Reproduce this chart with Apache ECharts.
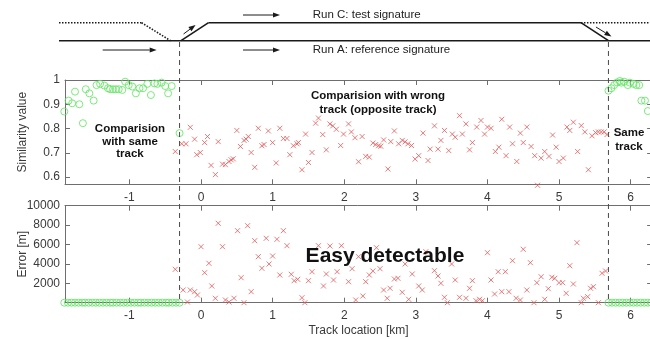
<!DOCTYPE html>
<html><head><meta charset="utf-8">
<script src="https://cdn.jsdelivr.net/npm/echarts@6/dist/echarts.min.js"></script>
<style>html,body{margin:0;padding:0;background:#fff}#c{width:650px;height:339px}</style>
</head><body><div id="c"></div>
<script>
// ---- data ----
const xTicks = [-1, 0, 1, 2, 3, 4, 5, 6];
const simTicks = [0.6, 0.7, 0.8, 0.9, 1.0];
const errTicks = [2000, 4000, 6000, 8000, 10000];
const switchKm = [-0.3, 5.69];

const greenLeftX = [-1.91,-1.85,-1.80,-1.76,-1.70,-1.65,-1.61,-1.56,-1.50,-1.46,-1.41,-1.35,-1.30,-1.27,-1.23,-1.19,-1.15,-1.10,-1.06,-1.01,-0.96,-0.91,-0.86,-0.81,-0.75,-0.70,-0.65,-0.61,-0.55,-0.50,-0.46,-0.41,-0.30];
const greenLeftSim = [0.870,0.915,0.904,0.952,0.900,0.822,0.962,0.945,0.915,0.979,0.984,0.977,0.966,0.962,0.962,0.962,0.962,0.959,0.993,0.979,0.973,0.945,0.966,0.966,0.984,0.938,0.986,0.984,0.989,0.975,0.945,0.975,0.781];
const greenRightX = [5.69,5.73,5.77,5.81,5.85,5.87,5.91,5.96,5.99,6.04,6.08,6.12,6.15,6.20,6.24];
const greenRightSim = [0.956,0.966,0.979,0.990,0.996,0.989,0.993,0.979,0.989,0.984,0.979,0.979,0.915,0.915,0.872];

const greenLeftErrX = [-1.91,-1.86,-1.81,-1.76,-1.71,-1.66,-1.62,-1.57,-1.52,-1.47,-1.42,-1.37,-1.32,-1.27,-1.23,-1.18,-1.13,-1.08,-1.03,-0.98,-0.93,-0.88,-0.84,-0.79,-0.74,-0.69,-0.64,-0.59,-0.54,-0.49,-0.45,-0.40,-0.35,-0.30];
const greenLeftErr = [0,0,0,0,0,0,0,0,0,0,0,0,0,0,0,0,0,0,0,0,0,0,0,0,0,0,0,0,0,0,0,0,0,0];
const greenRightErrX = [5.69,5.74,5.79,5.84,5.89,5.94,5.99,6.04,6.09,6.14,6.19,6.24,6.29];
const greenRightErr = [0,0,0,0,0,0,0,0,0,0,0,0,0];

const redSimX = [-0.36,-0.27,-0.21,-0.15,-0.09,-0.06,-0.01,0.05,0.09,0.14,0.20,0.24,0.30,0.34,0.39,0.42,0.45,0.50,0.55,0.60,0.63,0.66,0.70,0.75,0.80,0.85,0.88,0.94,1.00,1.05,1.10,1.15,1.20,1.24,1.29,1.34,1.36,1.41,1.46,1.50,1.55,1.60,1.64,1.70,1.75,1.80,1.84,1.89,1.95,1.99,2.06,2.10,2.15,2.20,2.25,2.30,2.35,2.40,2.44,2.48,2.51,2.55,2.61,2.65,2.70,2.76,2.81,2.85,2.89,2.94,2.99,3.04,3.10,3.17,3.20,3.26,3.31,3.35,3.40,3.46,3.51,3.55,3.61,3.65,3.70,3.75,3.79,3.85,3.91,3.96,4.00,4.05,4.11,4.16,4.20,4.26,4.31,4.35,4.41,4.46,4.50,4.55,4.61,4.66,4.70,4.75,4.80,4.86,4.91,4.96,5.00,5.06,5.11,5.15,5.20,5.26,5.31,5.36,5.41,5.46,5.51,5.55,5.59,5.63,5.67];
const redSim = [0.705,0.737,0.737,0.805,0.756,0.692,0.701,0.742,0.767,0.648,0.610,0.746,0.653,0.651,0.664,0.671,0.675,0.792,0.726,0.751,0.756,0.767,0.701,0.640,0.801,0.729,0.734,0.790,0.742,0.658,0.801,0.759,0.759,0.692,0.729,0.737,0.742,0.630,0.777,0.660,0.701,0.822,0.843,0.775,0.712,0.819,0.811,0.797,0.730,0.777,0.819,0.786,0.762,0.663,0.767,0.685,0.682,0.740,0.734,0.729,0.727,0.753,0.633,0.746,0.790,0.737,0.751,0.745,0.737,0.730,0.674,0.688,0.781,0.668,0.715,0.811,0.715,0.751,0.792,0.709,0.777,0.764,0.853,0.777,0.819,0.712,0.742,0.806,0.833,0.777,0.806,0.801,0.705,0.723,0.838,0.688,0.806,0.737,0.664,0.781,0.742,0.806,0.726,0.688,0.566,0.678,0.705,0.685,0.773,0.723,0.664,0.678,0.806,0.792,0.826,0.705,0.812,0.786,0.630,0.770,0.783,0.786,0.786,0.786,0.775];

const redErrX = [-0.36,-0.25,-0.19,-0.15,-0.09,-0.05,0.00,0.05,0.11,0.15,0.20,0.24,0.30,0.34,0.39,0.46,0.51,0.56,0.60,0.65,0.70,0.75,0.80,0.85,0.91,0.95,1.00,1.06,1.10,1.15,1.20,1.26,1.30,1.35,1.41,1.45,1.50,1.55,1.64,1.71,1.75,1.80,1.85,1.90,1.96,2.06,2.11,2.16,2.20,2.26,2.30,2.35,2.40,2.45,2.50,2.55,2.60,2.64,2.70,2.75,2.81,2.85,2.90,2.95,3.04,3.09,3.14,3.26,3.31,3.35,3.40,3.44,3.50,3.55,3.61,3.70,3.75,3.79,3.84,3.89,3.93,4.00,4.05,4.10,4.15,4.20,4.25,4.30,4.35,4.40,4.46,4.50,4.55,4.60,4.65,4.69,4.75,4.80,4.85,4.90,4.94,5.00,5.05,5.10,5.15,5.20,5.25,5.31,5.34,5.40,5.44,5.48,5.55,5.60,5.65];
const redErr = [3443,1309,72,1309,1134,794,5773,3093,4062,1722,454,8186,5773,278,72,454,7423,2577,0,7938,1134,6392,4742,3546,6639,3990,4814,6536,2856,7423,5876,2928,2268,2412,515,0,2268,3196,5876,1722,2959,5845,2340,3196,5876,2165,3505,278,4742,691,2165,2856,3268,5670,3505,1309,454,1485,2443,2515,1072,3990,350,2959,1722,1309,5258,3299,2753,2000,557,0,3990,2340,557,454,1485,2268,206,350,206,5155,2340,897,3196,1134,3196,1134,4330,454,278,5505,1309,4124,0,2062,2680,350,1443,2619,2515,2062,2062,969,3814,1928,6186,0,454,619,1485,1650,0,3031,3268];

// ---- chart ----
const FONT = '"Liberation Sans", Arial, sans-serif';
const AX = '#6e6e6e';
const TXT = '#3a3a3a';
const GREEN = '#5ee35e';
const RED = '#e45a5a';
const X_MIN = -1.9, X_MAX = 6.3;
const PX_PER_KM = 71.6;
const GRID_LEFT = 65;
const GRID_W = (X_MAX - X_MIN) * PX_PER_KM;

const zip = (a, b) => a.map((v, i) => [v, b[i]]);
const chart = echarts.init(document.getElementById('c'), null, {renderer: 'canvas'});
const plain = v => String(+v.toFixed(4));

function xAx(gridIndex, pos, labels, name) {
  return {
    type: 'value', gridIndex, position: pos, min: X_MIN, max: X_MAX,
    axisLine: {show: true, onZero: false, lineStyle: {color: AX, width: 1}},
    axisTick: {show: true, inside: true, length: 5, customValues: xTicks, lineStyle: {color: AX}},
    axisLabel: {show: labels, customValues: xTicks, formatter: plain, color: TXT, fontSize: 12, fontFamily: FONT, margin: 7},
    splitLine: {show: false},
    name: name || '', nameLocation: 'middle', nameGap: 22, nameMoveOverlap: false,
    nameTextStyle: {color: TXT, fontSize: 12, fontFamily: FONT}
  };
}
function yAx(gridIndex, pos, min, max, ticks, labels, name) {
  return {
    type: 'value', gridIndex, position: pos, min, max,
    axisLine: {show: true, onZero: false, lineStyle: {color: AX, width: 1}},
    axisTick: {show: true, inside: true, length: 5, customValues: ticks, lineStyle: {color: AX}},
    axisLabel: {show: labels, customValues: ticks, formatter: plain, color: TXT, fontSize: 12, fontFamily: FONT, margin: 5},
    splitLine: {show: false},
    name: name || '', nameLocation: 'middle', nameGap: 36, nameRotate: 90, nameMoveOverlap: false,
    nameTextStyle: {color: TXT, fontSize: 12, fontFamily: FONT}
  };
}
const circleStyle = {color: 'rgba(0,0,0,0)', borderColor: GREEN, borderWidth: 1};
const crossStyle = {color: RED, borderColor: RED, borderWidth: 1};
const CROSS = 'path://M0,0L10,10M10,0L0,10';

function sc(xi, yi, data, green) {
  return {
    type: 'scatter', xAxisIndex: xi, yAxisIndex: yi, data, clip: false, silent: true,
    symbol: green ? 'circle' : CROSS, symbolSize: green ? 7 : 5,
    itemStyle: green ? circleStyle : crossStyle, animation: false, z: green ? 3 : 2,
    emphasis: {disabled: true}
  };
}

chart.setOption({
  animation: false,
  textStyle: {fontFamily: FONT},
  grid: [
    {left: GRID_LEFT, top: 80, width: GRID_W, height: 104.3, outerBoundsMode: 'none', containLabel: false},
    {left: GRID_LEFT, top: 205.7, width: GRID_W, height: 97, outerBoundsMode: 'none', containLabel: false}
  ],
  xAxis: [
    xAx(0, 'bottom', true),
    xAx(0, 'top', false),
    xAx(1, 'bottom', true, 'Track location [km]'),
    xAx(1, 'top', false)
  ],
  yAxis: [
    yAx(0, 'left', 0.57, 1.0, simTicks, true, 'Similarity value'),
    yAx(0, 'right', 0.57, 1.0, simTicks, false),
    yAx(1, 'left', 0, 10000, errTicks, true, 'Error [m]'),
    yAx(1, 'right', 0, 10000, errTicks, false)
  ],
  series: [
    sc(0, 0, zip(redSimX, redSim), false),
    sc(0, 0, zip(greenLeftX, greenLeftSim), true),
    sc(0, 0, zip(greenRightX, greenRightSim), true),
    sc(2, 2, zip(redErrX, redErr), false),
    sc(2, 2, zip(greenLeftErrX, greenLeftErr), true),
    sc(2, 2, zip(greenRightErrX, greenRightErr), true)
  ]
});

// ---- annotations ----
const xl = chart.convertToPixel({xAxisIndex: 0}, switchKm[0]);
const xr = chart.convertToPixel({xAxisIndex: 0}, switchKm[1]);
const yTopLine = 22.7, yBotLine = 40.7;
const lineCol = '#1a1a1a';

function seg(x1, y1, x2, y2, dash, w) {
  return {type: 'line', shape: {x1, y1, x2, y2}, style: {stroke: lineCol, lineWidth: w || 1.6, lineDash: dash || null}, silent: true, z: 10};
}
function arrow(x1, y1, x2, y2, w) {
  const ang = Math.atan2(y2 - y1, x2 - x1);
  const L = 7, H = 2.6;
  const bx = x2 - L * Math.cos(ang), by = y2 - L * Math.sin(ang);
  const px = -Math.sin(ang) * H, py = Math.cos(ang) * H;
  return [
    {type: 'line', shape: {x1, y1, x2: bx, y2: by}, style: {stroke: lineCol, lineWidth: w || 1}, silent: true, z: 10},
    {type: 'polygon', shape: {points: [[x2, y2], [bx + px, by + py], [bx - px, by - py]]}, style: {fill: lineCol}, silent: true, z: 10}
  ];
}
function txt(x, y, text, opt) {
  return Object.assign({type: 'text', x, y, silent: true, z: 20,
    style: Object.assign({text, fill: '#111', fontFamily: FONT, fontSize: 11.5, fontWeight: 'bold', align: 'center', verticalAlign: 'middle', lineHeight: 13}, opt || {})});
}

const g = [];
// track diagram
g.push(seg(59, yTopLine, xl - 38, yTopLine, [1.5, 1.5]));
g.push(seg(xl - 38, yTopLine, xl - 9, yBotLine, [1.5, 1.5]));
g.push(seg(59, yBotLine, 650, yBotLine));
g.push(seg(xl + 1.5, yBotLine, xl + 29, yTopLine));
g.push(seg(xl + 29, yTopLine, xr - 27.5, yTopLine));
g.push(seg(xr - 27.5, yTopLine, xr, yBotLine));
g.push(seg(xr - 27.5, yTopLine, 650, yTopLine, [1.5, 1.5]));
g.push(...arrow(102.7, 50, 156.7, 50));
g.push(...arrow(243, 15, 280, 15));
g.push(...arrow(243, 50, 280, 50));
g.push(...arrow(xl + 4, 34, xl + 16, 25));
g.push(...arrow(xr - 12.5, 27, xr + 3, 36.5));
g.push(txt(312.7, 15, 'Run C: test signature', {align: 'left', fontWeight: 'normal', fontSize: 11.5, fill: '#222'}));
g.push(txt(312.7, 50, 'Run A: reference signature', {align: 'left', fontWeight: 'normal', fontSize: 11.5, fill: '#222'}));
// dashed switch lines
[xl, xr].forEach(x => g.push({type: 'line', shape: {x1: x, y1: 42, x2: x, y2: 302.7},
  style: {stroke: '#4a4a4a', lineWidth: 1, lineDash: [5, 4]}, silent: true, z: 5}));
// plot labels
g.push(txt(130, 141.7, 'Comparision\nwith same\ntrack', {lineHeight: 12.4}));
g.push(txt(378, 103, 'Comparision with wrong\ntrack (opposite track)', {lineHeight: 14}));
g.push(txt(629, 140, 'Same\ntrack', {lineHeight: 14.5}));
g.push(txt(385, 256.7, 'Easy detectable', {fontSize: 21}));

chart.setOption({graphic: {elements: g}});
</script></body></html>
